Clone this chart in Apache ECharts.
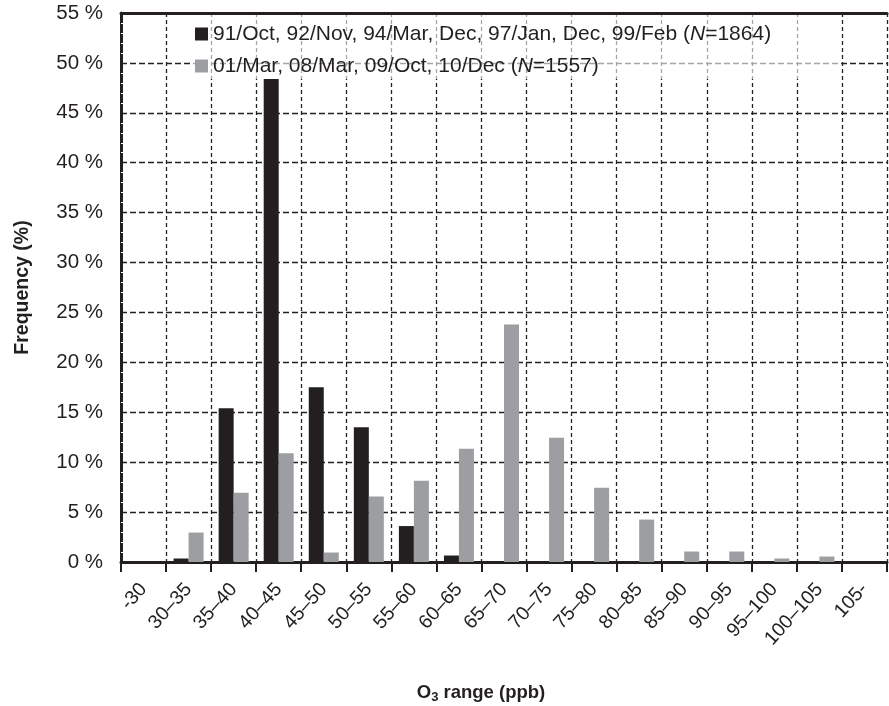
<!DOCTYPE html>
<html>
<head>
<meta charset="utf-8">
<script src="https://cdn.jsdelivr.net/npm/echarts@6/dist/echarts.min.js"></script>
<style>html,body{margin:0;padding:0;background:#fff}#c{width:889px;height:706px}</style>
</head>
<body>
<div id="c"></div>
<script>
const categories = ['-30','30–35','35–40','40–45','45–50','50–55','55–60','60–65','65–70','70–75','75–80','80–85','85–90','90–95','95–100','100–105','105-'];
const seriesNames = ['91/Oct, 92/Nov, 94/Mar, Dec, 97/Jan, Dec, 99/Feb (N=1864)', '01/Mar, 08/Mar, 09/Oct, 10/Dec (N=1557)'];
const early = [0, 0.35, 15.4, 48.4, 17.5, 13.5, 3.6, 0.65, 0, 0, 0, 0, 0, 0, 0, 0, 0];
const late = [0, 2.95, 6.95, 10.9, 0.95, 6.55, 8.15, 11.35, 23.8, 12.45, 7.45, 4.25, 1.05, 1.05, 0.35, 0.55, 0];
const yTicks = {min: 0, max: 55, interval: 5};

const chart = echarts.init(document.getElementById('c'), null, {renderer: 'canvas'});
const ink = '#231f20';
const font = '"Liberation Sans", Arial, sans-serif';

function legendFmt(name) {
  const m = name.match(/^(.*\()N(=\d+\))$/);
  if (!m) return '{a|' + name + '}';
  return '{a|' + m[1] + '}{i|N}{a|' + m[2] + '}';
}

chart.setOption({
  animation: false,
  textStyle: {fontFamily: font, color: ink},
  grid: {left: 121, right: 2, top: 13, bottom: 144, containLabel: false, outerBoundsMode: 'none'},
  legend: {
    orient: 'vertical',
    left: 190,
    top: 15,
    padding: [7, 70, 1, 5],
    itemGap: 8,
    itemWidth: 13,
    itemHeight: 13,
    icon: 'rect',
    backgroundColor: 'rgba(255,255,255,0.6)',
    data: seriesNames,
    formatter: legendFmt,
    textStyle: {
      fontSize: 21, color: ink, lineHeight: 24,
      rich: {
        a: {fontSize: 21, color: ink, fontFamily: font, lineHeight: 24},
        i: {fontSize: 21, color: ink, fontStyle: 'italic', fontFamily: font, lineHeight: 24}
      }
    }
  },
  xAxis: [{
    type: 'category',
    data: categories,
    boundaryGap: true,
    name: '{b|O}{s|3}{b| range (ppb)}',
    nameLocation: 'middle',
    nameGap: 120,
    nameTextStyle: {
      padding: [0, 46, 0, 0],
      rich: {
        b: {fontSize: 18.5, fontWeight: 'bold', color: ink, fontFamily: font},
        s: {fontSize: 13, fontWeight: 'bold', color: ink, fontFamily: font, verticalAlign: 'bottom', padding: [9, 0, 0, 0]}
      }
    },
    axisLine: {lineStyle: {color: ink, width: 3}},
    axisTick: {show: true, length: 10, inside: false, alignWithLabel: false, lineStyle: {color: ink, width: 2}},
    axisLabel: {rotate: 48, fontSize: 19.5, color: ink, margin: 24, interval: 0, fontFamily: font},
    splitLine: {show: true, interval: 0, lineStyle: {color: '#222', width: 1.3, type: [4, 3]}}
  }, {
    type: 'category',
    data: categories,
    position: 'top',
    axisLine: {show: true, lineStyle: {color: ink, width: 3}},
    axisTick: {show: false},
    axisLabel: {show: false},
    splitLine: {show: false}
  }],
  yAxis: {
    type: 'value',
    min: yTicks.min,
    max: yTicks.max,
    interval: yTicks.interval,
    name: 'Frequency (%)',
    nameLocation: 'middle',
    nameGap: 88,
    nameTextStyle: {fontSize: 19.5, fontWeight: 'bold', color: ink, fontFamily: font},
    axisLine: {show: true, lineStyle: {color: ink, width: 3}},
    axisTick: {show: true, inside: true, length: 5, lineStyle: {color: ink, width: 1}},
    minorTick: {show: true, splitNumber: 5, length: 2, lineStyle: {color: '#ffffff', width: 1}},
    axisLabel: {formatter: '{value} %', fontSize: 20.5, color: ink, margin: 18, fontFamily: font},
    splitLine: {show: true, lineStyle: {color: '#222', width: 1.3, type: [6, 3]}}
  },
  series: [{
    name: seriesNames[0],
    type: 'bar',
    data: early,
    barWidth: 15,
    barGap: '0%',
    itemStyle: {color: ink},
    z: 3
  }, {
    name: seriesNames[1],
    type: 'bar',
    data: late,
    barWidth: 15,
    barGap: '0%',
    itemStyle: {color: '#9d9ea2'},
    z: 3
  }]
});
</script>
</body>
</html>
